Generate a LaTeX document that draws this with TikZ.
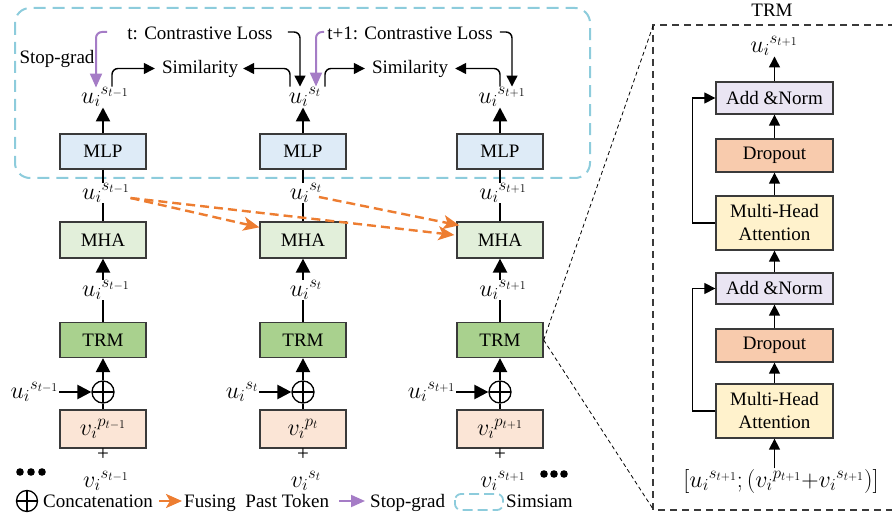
\RequirePackage{fix-cm}
\documentclass[tikz,border=0pt]{standalone}
\usepackage{fontspec}
\setmainfont{Liberation Serif}
\usetikzlibrary{arrows.meta,calc}
\definecolor{mlpc}{HTML}{DEEBF7}
\definecolor{mhac}{HTML}{E2EFDA}
\definecolor{trmc}{HTML}{A9D18E}
\definecolor{vc}{HTML}{FBE5D6}
\definecolor{anc}{HTML}{EAE5F3}
\definecolor{doc}{HTML}{F8CBAD}
\definecolor{mhdc}{HTML}{FFF2CC}
\definecolor{simc}{HTML}{8DCCDC}
\definecolor{orc}{HTML}{ED7D31}
\definecolor{puc}{HTML}{A57CC6}
\definecolor{edgec}{HTML}{3A3A3A}
\begin{document}
\begin{tikzpicture}[x=1pt,y=-1pt,
  every node/.style={font=\fontsize{19}{23}\selectfont, inner sep=1pt},
  blk/.style={draw=edgec, line width=1.3pt, minimum width=86pt, minimum height=35pt, inner sep=0pt},
  dblk/.style={draw=edgec, line width=1.3pt, minimum width=117pt, inner sep=0pt, align=center},
  lbl/.style={inner sep=0.5pt, font=\fontsize{24}{28}\selectfont},
  bigar/.style={line width=2.4pt, -{Triangle[length=14pt,width=14pt]}},
  thinar/.style={line width=1.4pt, -{Triangle[length=11pt,width=11pt]}},
  plainln/.style={line width=2.4pt},
  oplusn/.style={circle, draw, line width=1.3pt, minimum size=22pt, inner sep=0pt,
    path picture={\draw[line width=1.1pt] (path picture bounding box.north) -- (path picture bounding box.south)
      (path picture bounding box.west) -- (path picture bounding box.east);}},
  orar/.style={orc, line width=2.4pt, dash pattern=on 9pt off 5pt, -{Stealth[length=16pt,width=14pt,inset=4pt]}},
  puar/.style={puc, line width=2pt, -{Triangle[length=14pt,width=12pt]}},
  simbox/.style={simc, line width=2pt, dash pattern=on 12pt off 7pt}
]
\useasboundingbox (0,0) rectangle (892,521);

% Simsiam box
\draw[simbox, rounded corners=15pt] (15,8) rectangle (590,178);

% columns
\foreach \k/\cx/\sx in {1/103/{t-1},2/303/t,3/500/{t+1}}{
  \node[blk,fill=mlpc] (MLP\k) at (\cx,151.5) {MLP};
  \node[lbl] (uT\k) at (\cx+2,97) {$u_i{}^{s_{\sx}}$};
  \node[lbl] (uM\k) at (\cx+3,193) {$u_i{}^{s_{\sx}}$};
  \node[blk,fill=mhac,minimum height=36pt] (MHA\k) at (\cx,240) {MHA};
  \node[lbl] (uL\k) at (\cx+3,290) {$u_i{}^{s_{\sx}}$};
  \node[blk,fill=trmc] (TRM\k) at (\cx,340) {TRM};
  \node[oplusn] (op\k) at (\cx,392) {};
  \node[lbl,anchor=east] (uI\k) at (\cx-44,392) {$u_i{}^{s_{\sx}}$};
  \node[blk,fill=vc,minimum height=38pt,font=\fontsize{24}{28}\selectfont] (V\k) at (\cx,429) {$v_i{}^{p_{\sx}}$};
  \node[inner sep=0pt, font=\fontsize{21}{23}\selectfont] (pl\k) at (\cx,455) {+};
  \node[lbl,inner sep=0pt] (vs\k) at (\cx+3,481) {$v_i{}^{s_{\sx}}$};
  \draw[bigar] (MLP\k.north) -- (MLP\k.north |- uT\k.south);
  \draw[plainln] (MLP\k.south) -- (MLP\k.south |- uM\k.north);
  \draw[plainln] (MHA\k.north |- uM\k.south) -- (MHA\k.north);
  \draw[bigar] (MHA\k.south |- uL\k.north) -- (MHA\k.south);
  \draw[plainln] (TRM\k.north) -- (TRM\k.north |- uL\k.south);
  \draw[bigar] (op\k.north) -- (TRM\k.south);
  \draw[line width=1.3pt] (op\k.south) -- (V\k.north);
  \draw[bigar] (uI\k.east) -- (op\k.west);
}

% ellipses
\foreach \x in {20,31,42}{\fill (\x,472) circle (3.8pt);}
\foreach \x in {544,554,564}{\fill (\x,474) circle (3.8pt);}

% top part
\node (Sim1) at (200,68.5) {Similarity};
\node (Sim2) at (410,68.5) {Similarity};
\node (CL1) at (200,33) {t: Contrastive Loss};
\node (CL2) at (410,33) {t+1: Contrastive Loss};
\node (SG) at (57,59) {Stop-grad};

\draw[thinar, rounded corners=6pt] ($(uT1.north)+(7,0)$) |- ([xshift=-6pt]Sim1.west);
\draw[thinar, rounded corners=6pt] ($(uT2.north)+(-15,0)$) |- ([xshift=4pt]Sim1.east);
\draw[thinar, rounded corners=6pt] ($(uT2.north)+(20,0)$) |- ([xshift=-6pt]Sim2.west);
\draw[thinar, rounded corners=6pt] ($(uT3.north)+(-2,0)$) |- ([xshift=6pt]Sim2.east);

\draw[puar, rounded corners=6pt] ([xshift=-19pt,yshift=1pt]CL1.west) -| ($(uT1.north)+(-9,1)$);
\draw[thinar, rounded corners=6pt] ([xshift=14pt,yshift=1pt]CL1.east) -| ($(uT2.north)+(-5,0)$);
\draw[puar, rounded corners=6pt] ([xshift=-2pt,yshift=1pt]CL2.west) -| ($(uT2.north)+(11,0)$);
\draw[thinar, rounded corners=6pt] ([xshift=6pt,yshift=1pt]CL2.east) -| ($(uT3.north)+(10,0)$);

% fusing arrows
\draw[orar] ($(uM1.east)+(0,5)$) -- ($(MHA2.north west)+(0,6)$);
\draw[orar] ($(uM1.east)+(0,5)$) -- ($(MHA3.west)+(-2,-5)$);
\draw[orar] ($(uM2.east)+(-4,4)$) -- ($(MHA3.north west)+(3,4)$);

% TRM detail
\node (TT) at (772,10.5) {TRM};
\draw[edgec, line width=1.3pt, dash pattern=on 7pt off 5pt] (895,25) -| (653,510) -- (895,510);
\draw[line width=0.8pt, dash pattern=on 4pt off 3pt] (TRM3.east) -- (653,26);
\draw[line width=0.8pt, dash pattern=on 4pt off 3pt] (TRM3.east) -- (653,509);

\node[dblk, fill=anc, minimum height=32pt] (AN2) at (774.5,98) {Add \&Norm};
\node[dblk, fill=doc, minimum height=33pt] (DO2) at (774.5,155.5) {Dropout};
\node[dblk, fill=mhdc, minimum height=54pt] (MH2) at (774.5,223) {Multi-Head\\Attention};
\node[dblk, fill=anc, minimum height=31pt] (AN1) at (774.5,288.5) {Add \&Norm};
\node[dblk, fill=doc, minimum height=33pt] (DO1) at (774.5,345.5) {Dropout};
\node[dblk, fill=mhdc, minimum height=54pt] (MH1) at (774.5,411) {Multi-Head\\Attention};
\node[lbl] (uO) at (774,46) {$u_i{}^{s_{t+1}}$};
\node[lbl] (inp) at (781,481) {$[u_i{}^{s_{t+1}};(v_i{}^{p_{t+1}}{+}v_i{}^{s_{t+1}})]$};

\draw[thinar] (MH1.south |- inp.north) -- (MH1.south);
\draw[thinar] (MH1.north) -- (DO1.south);
\draw[thinar] (DO1.north) -- (AN1.south);
\draw[thinar] (AN1.north) -- (MH2.south);
\draw[thinar] (MH2.north) -- (DO2.south);
\draw[thinar] (DO2.north) -- (AN2.south);
\draw[thinar] (AN2.north) -- (AN2.north |- uO.south);
\draw[thinar, line width=1.2pt] (MH1.west) -- ++(-23,0) |- (AN1.west);
\draw[thinar, line width=1.2pt] (MH2.west) -- ++(-23,0) |- (AN2.west);

% legend
\node[oplusn, minimum size=21pt] (Lop) at (27,501) {};
\node[anchor=base west] (Lc) at (42,507) {Concatenation};
\draw[orc, line width=2.4pt, -{Stealth[length=16pt,width=14pt,inset=4pt]}] (159,501) -- (182,501);
\node[anchor=base west] (Lf) at (183,507) {Fusing\ \ Past Token};
\draw[puar] (339,501) -- (365,501);
\node[anchor=base west] (Ls) at (369,507) {Stop-grad};
\draw[simbox, line width=1.8pt, dash pattern=on 10pt off 5pt, rounded corners=6pt] (455,494) rectangle (503,510);
\node[anchor=base west] (Lsim) at (505,507) {Simsiam};
\end{tikzpicture}
\end{document}
